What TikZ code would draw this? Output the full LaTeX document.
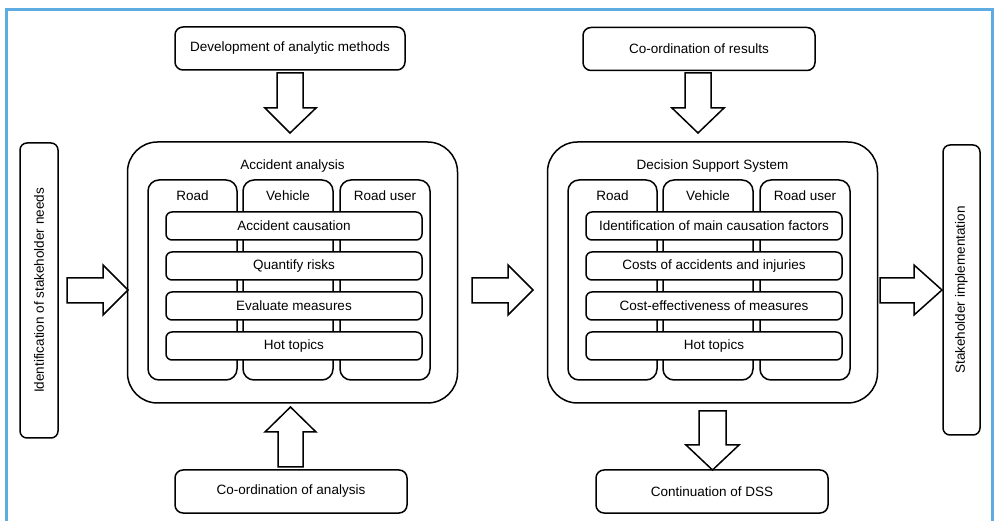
\documentclass[tikz,border=0pt]{standalone}
\usepackage{fontspec}
\setmainfont{Liberation Sans}
\definecolor{frameblue}{RGB}{93,173,226}
\begin{document}
\begin{tikzpicture}[x=1pt,y=-1pt,
  every node/.style={font=\fontsize{13.5}{16}\selectfont, inner sep=0pt},
  line/.style={line width=1.5pt, line join=round},
  outbox/.style={line, draw, fill=white, rounded corners=8pt, minimum width=232pt, minimum height=43pt},
  sidebox/.style={line, draw, fill=white, rounded corners=7pt},
  bigbox/.style={line, draw, fill=white, rounded corners=30pt, minimum width=330pt, minimum height=261pt},
  colbox/.style={line, draw, fill=white, rounded corners=11pt, minimum height=200pt},
  rowbox/.style={line, draw, fill=white, rounded corners=6pt, minimum width=256pt, minimum height=28pt},
  barrow/.style={line, draw, fill=white, line join=miter}]
\clip (0,0) rectangle (997,521);
\fill[white] (0,0) rectangle (997,521);
\draw[frameblue, line width=3pt] (6.5,10) rectangle (992,560);

% outer boxes
\node[outbox, minimum width=230pt] (dev) at (290,48.5) {Development of analytic methods};
\node[outbox] (cores) at (699,49) {Co-ordination of results};
\node[outbox] (coana) at (291,491.5) {Co-ordination of analysis};
\node[outbox] (cont) at (712,491.5) {Continuation of DSS};
\node[sidebox, minimum width=38pt, minimum height=295pt] (ident) at (39,290.5) {};
\node[rotate=90] at (ident.center) {Identification of stakeholder needs};
\node[sidebox, minimum width=37pt, minimum height=290pt] (impl) at (961.5,290) {};
\node[rotate=90] at (impl.center) {Stakeholder implementation};

% left big box
\node[bigbox] (aa) at (292.5,272.5) {};
\node (aat) at (292.5,166) {Accident analysis};
\node[colbox, minimum width=89pt] (lc1) at (192.5,280) {};
\node[colbox, minimum width=90pt] (lc2) at (288,280) {};
\node[colbox, minimum width=90pt] (lc3) at (385,280) {};
\node at (192.5,196) {Road};
\node at (288,196) {Vehicle};
\node at (385,196) {Road user};
\node[rowbox] (lr1) at (294,226) {Accident causation};
\node[rowbox] (lr2) at (294,266) {Quantify risks};
\node[rowbox] (lr3) at (294,306) {Evaluate measures};
\node[rowbox] (lr4) at (294,346) {Hot topics};

% right big box
\node[bigbox] (dss) at (712.5,272.5) {};
\node (dsst) at (712.5,166) {Decision Support System};
\node[colbox, minimum width=89pt] (rc1) at (612.5,280) {};
\node[colbox, minimum width=90pt] (rc2) at (708,280) {};
\node[colbox, minimum width=90pt] (rc3) at (805,280) {};
\node at (612.5,196) {Road};
\node at (708,196) {Vehicle};
\node at (805,196) {Road user};
\node[rowbox] (rr1) at (714,226) {Identification of main causation factors};
\node[rowbox] (rr2) at (714,266) {Costs of accidents and injuries};
\node[rowbox] (rr3) at (714,306) {Cost-effectiveness of measures};
\node[rowbox] (rr4) at (714,346) {Hot topics};

% block arrows
% top-left down
\draw[barrow] (277,73) -- (303,73) -- (303,108) -- (316,108) -- (290,133) -- (265,108) -- (277,108) -- cycle;
% top-right down
\draw[barrow] (685,73) -- (711,73) -- (711,108) -- (724,108) -- (698,133) -- (672,108) -- (685,108) -- cycle;
% bottom-left up
\draw[barrow] (278,467) -- (303,467) -- (303,432) -- (316,432) -- (290.5,407) -- (265,432) -- (278,432) -- cycle;
% bottom-right down
\draw[barrow] (699,411) -- (726,411) -- (726,445) -- (739,445) -- (712.5,470) -- (686,445) -- (699,445) -- cycle;
% left right-arrow
\draw[barrow] (67,278) -- (103,278) -- (103,265) -- (128,290) -- (103,315) -- (103,303) -- (67,303) -- cycle;
% middle right-arrow
\draw[barrow] (472,278) -- (508,278) -- (508,265) -- (533,290) -- (508,315) -- (508,303) -- (472,303) -- cycle;
% right right-arrow
\draw[barrow] (880,278) -- (914,278) -- (914,265) -- (942,290) -- (914,315) -- (914,303) -- (880,303) -- cycle;
\end{tikzpicture}
\end{document}
